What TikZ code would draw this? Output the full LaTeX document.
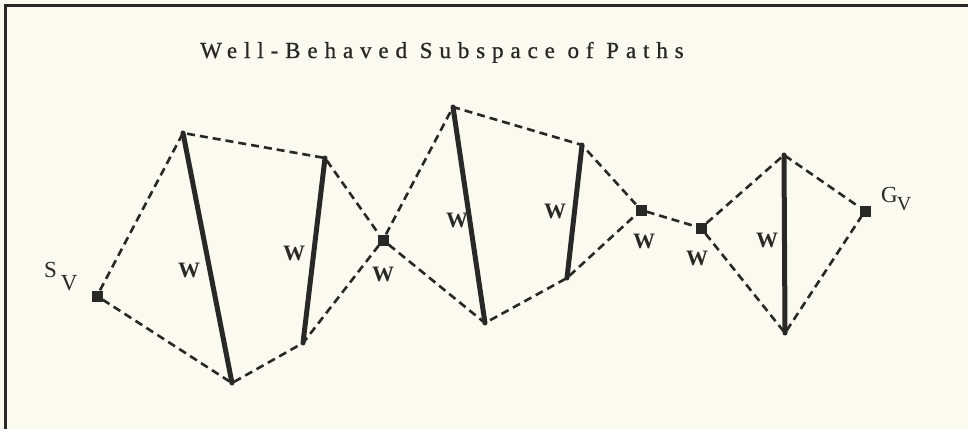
\documentclass[tikz,border=0pt]{standalone}
\usepackage{fontspec}
\setmainfont{Liberation Serif}
\newfontfamily\titlefont[LetterSpace=30,FakeBold=0.8]{Liberation Serif}
\definecolor{bg}{RGB}{250,250,240}
\definecolor{ink}{RGB}{40,40,38}
\begin{document}
\begin{tikzpicture}[x=1pt,y=-1pt,
  pathline/.style={ink, line width=2.6pt, dash pattern=on 8pt off 5pt},
  wall/.style={ink, line width=5pt, line cap=round},
  vert/.style={rectangle, fill=ink, minimum size=11pt, inner sep=0pt},
  wlab/.style={font=\fontsize{22}{22}\selectfont\bfseries, text=ink, inner sep=0pt},
  lab/.style={font=\fontsize{23}{23}\selectfont, text=ink, inner sep=0pt}]
\useasboundingbox (0,0) rectangle (968,429);
\fill[bg] (0,0) rectangle (968,429);
\draw[ink, line width=3.5pt] (5.3,429) -- (5.3,5.7) -- (968,5.7);

\node[anchor=base west, inner sep=0pt, text=ink, font=\titlefont\fontsize{23}{23}\selectfont] (title) at (200,58) {Well-Behaved Subspace of Paths};

% vertices
\node[vert] (sv) at (97,296) {};
\node[vert] (m1) at (383,240) {};
\node[vert] (m2) at (641,210) {};
\node[vert] (m3) at (701,228) {};
\node[vert] (gv) at (865,211) {};

% wall ends
\coordinate (a1t) at (183,133);
\coordinate (a1b) at (232,383);
\coordinate (b1t) at (325,158);
\coordinate (b1b) at (303,343);
\coordinate (a2t) at (453,107);
\coordinate (a2b) at (485,323);
\coordinate (b2t) at (582,145);
\coordinate (b2b) at (567,278);
\coordinate (a3t) at (784,155);
\coordinate (a3b) at (785,333);

% dashed paths
\draw[pathline] (sv) -- (a1t) -- (b1t) -- (m1);
\draw[pathline] (sv) -- (a1b) -- (b1b) -- (m1);
\draw[pathline] (m1) -- (a2t) -- (b2t) -- (m2);
\draw[pathline] (m1) -- (a2b) -- (b2b) -- (m2);
\draw[pathline] (m2) -- (m3);
\draw[pathline] (m3) -- (a3t) -- (gv);
\draw[pathline] (m3) -- (a3b) -- (gv);

% walls
\draw[wall] (a1t) -- (a1b);
\draw[wall] (b1t) -- (b1b);
\draw[wall] (a2t) -- (a2b);
\draw[wall] (b2t) -- (b2b);
\draw[wall] (a3t) -- (a3b);

% W labels
\node[wlab] (w1) at (189,270) {W};
\node[wlab] (w2) at (294,253) {W};
\node[wlab] (w3) at (383,274) {W};
\node[wlab] (w4) at (457,220) {W};
\node[wlab] (w5) at (555,211) {W};
\node[wlab] (w6) at (644,241) {W};
\node[wlab] (w7) at (697,258) {W};
\node[wlab] (w8) at (767,240) {W};

% S_V and G_V
\node[lab, anchor=base west] (svlab) at (44,277) {S\kern4pt\raisebox{-13pt}{V}};
\node[lab, anchor=base west] (gvlab) at (881,202) {G\kern-1pt\raisebox{-8pt}{\fontsize{20}{20}\selectfont V}};
\end{tikzpicture}
\end{document}
